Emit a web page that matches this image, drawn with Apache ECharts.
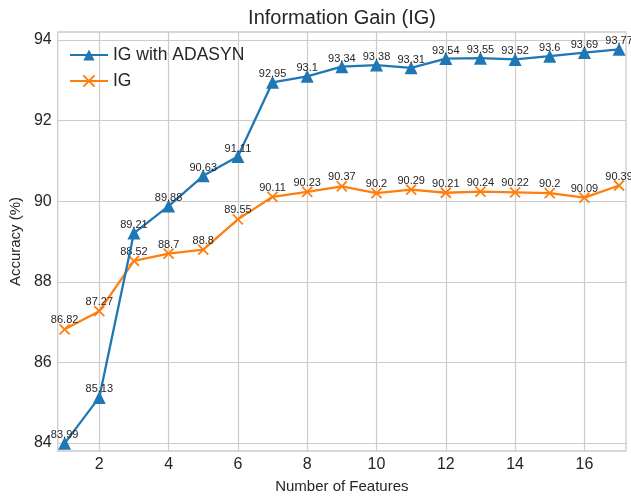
<!DOCTYPE html>
<html>
<head>
<meta charset="utf-8">
<script src="https://cdn.jsdelivr.net/npm/echarts@6/dist/echarts.min.js"></script>
<style>html,body{margin:0;padding:0;background:#fff}#c{width:631px;height:499px}</style>
</head>
<body>
<div id="c"></div>
<script>
const features = [1,2,3,4,5,6,7,8,9,10,11,12,13,14,15,16,17];
const igAdasyn = [83.99,85.13,89.21,89.88,90.63,91.11,92.95,93.1,93.34,93.38,93.31,93.54,93.55,93.52,93.6,93.69,93.77];
const ig = [86.82,87.27,88.52,88.7,88.8,89.55,90.11,90.23,90.37,90.2,90.29,90.21,90.24,90.22,90.2,90.09,90.39];
const xTicks = [2,4,6,8,10,12,14,16];
const yTicks = [84,86,88,90,92,94];

const txt = '#262626';
const font = 'Liberation Sans, Arial, sans-serif';
const chart = echarts.init(document.getElementById('c'), null, {renderer:'canvas'});
const pairs = arr => features.map((f,i)=>[f,arr[i]]);
const lbl = d => ({show:true, position:'top', distance:d, fontSize:11, color:txt, fontFamily:font,
  formatter: p => String(p.value[1])});
chart.setOption({
  animation:false,
  backgroundColor:'#fff',
  title:{text:'Information Gain (IG)', left:337, top:3, textAlign:'center',
    textStyle:{fontSize:20, fontWeight:'normal', color:txt, fontFamily:font}},
  legend:{orient:'vertical', left:64, top:41, itemWidth:38, itemHeight:14, itemGap:8,
    textStyle:{fontSize:17.5, color:txt, fontFamily:font},
    data:['IG with ADASYN','IG']},
  grid:{left:54, right:5, top:32, bottom:41, show:true, borderColor:'#cccccc', borderWidth:1.3, containLabel:false},
  xAxis:{type:'value', min:0.8, max:17.2, name:'Number of Features', nameLocation:'middle', nameGap:28,
    nameTextStyle:{fontSize:15, color:txt, fontFamily:font},
    axisLine:{show:false}, axisTick:{show:false, customValues:xTicks},
    axisLabel:{customValues:xTicks, fontSize:16, color:txt, fontFamily:font, margin:6},
    splitLine:{show:true, lineStyle:{color:'#cccccc', width:1.2}, customValues:xTicks}},
  yAxis:{type:'value', min:83.8, max:94.2, name:'Accuracy (%)', nameLocation:'middle', nameGap:32,
    nameTextStyle:{fontSize:15, color:txt, fontFamily:font},
    axisLine:{show:false}, axisTick:{show:false, customValues:yTicks},
    axisLabel:{customValues:yTicks, fontSize:16, color:txt, fontFamily:font, margin:6},
    splitLine:{show:true, lineStyle:{color:'#cccccc', width:1.2}, customValues:yTicks}},
  series:[
    {name:'IG with ADASYN', type:'line', data:pairs(igAdasyn), symbol:'triangle', symbolSize:13,
     lineStyle:{color:'#1f77b4', width:2.3}, itemStyle:{color:'#1f77b4'}, label:lbl(-4), z:3},
    {name:'IG', type:'line', data:pairs(ig), symbol:'path://M0,0L10,10M10,0L0,10', symbolSize:10,
     lineStyle:{color:'#ff7f0e', width:2.3}, itemStyle:{color:'#ff7f0e', borderColor:'#ff7f0e', borderWidth:1.8}, label:lbl(-2.5), z:2}
  ]
});
</script>
</body>
</html>
